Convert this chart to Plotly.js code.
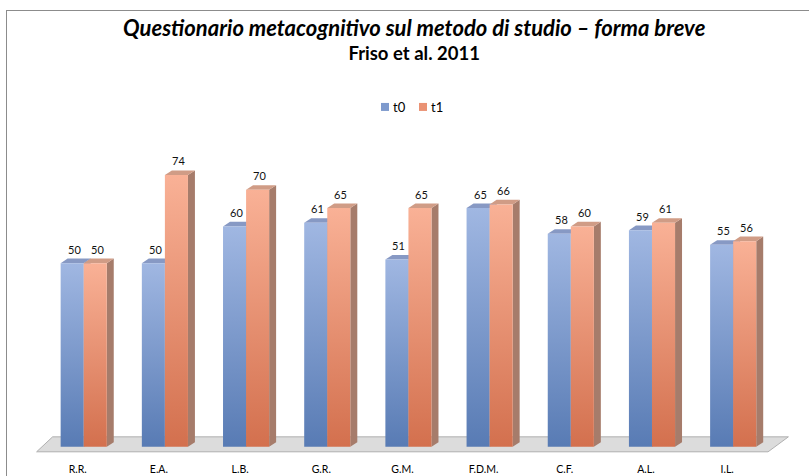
<!DOCTYPE html>
<html><head><meta charset="utf-8">
<script src="https://cdn.plot.ly/plotly-3.0.1.min.js"></script>
<style>body{margin:0;background:#fff}#wrap{position:relative;width:809px;height:476px;overflow:hidden}
#chart{width:809px;height:476px}
#frame{position:absolute;left:6px;top:10px;width:900px;height:600px;border-left:1.5px solid #8C8C8C;border-top:1.5px solid #8C8C8C;pointer-events:none}</style>
</head><body><div id="wrap"><div id="chart"></div><div id="frame"></div></div>
<script>
const categories = ["R.R.","E.A.","L.B.","G.R.","G.M.","F.D.M.","C.F.","A.L.","I.L."];
const t0 = [50,50,60,61,51,65,58,59,55];
const t1 = [50,74,70,65,65,66,60,61,56];
const seriesNames = ["t0","t1"];
const seriesColors = ['#7E9ACD','#EA9274'];

const idx = categories.map((_, i) => i);
const BW = 0.284;            // bar width (category units)
const DX = 0.086, DY = 1.25; // pseudo-3D depth
const FONT = "Lato, 'Open Sans', sans-serif";

const traces = [
  {type:'bar', name:seriesNames[0], x:idx, y:t0, marker:{color:seriesColors[0], line:{width:0}}, hoverinfo:'x+y'},
  {type:'bar', name:seriesNames[1], x:idx, y:t1, marker:{color:seriesColors[1], line:{width:0}}, hoverinfo:'x+y'}
];

function poly(pts){ return 'M' + pts.map(p => p[0] + ',' + p[1]).join(' L') + ' Z'; }

const shapes = [];
// floor
shapes.push({type:'path', xref:'x', yref:'y', layer:'below',
  path: poly([[-0.58,-1.36],[-0.383,2.72],[8.68,2.72],[8.43,-1.36]]),
  fillcolor:'#DCDCDC', line:{color:'#B0B0B0', width:1}});
const faces = [
  {vals:t0, off:-BW, side:'#7287AE', top:'#8799C4'},
  {vals:t1, off:0, side:'#A67C6B', top:'#D09C86'}
];
faces.forEach(f => {
  f.vals.forEach((v, i) => {
    const x0 = i + f.off, x1 = x0 + BW;
    shapes.push({type:'path', xref:'x', yref:'y', layer:'below',
      path: poly([[x1,0],[x1,v],[x1+DX,v+DY],[x1+DX,DY]]), fillcolor:f.side, line:{width:0}});
    shapes.push({type:'path', xref:'x', yref:'y', layer:'below',
      path: poly([[x0,v],[x1,v],[x1+DX,v+DY],[x0+DX,v+DY]]), fillcolor:f.top, line:{width:0}});
  });
});

const annotations = [];
[[t0,-BW/2],[t1,BW/2]].forEach(([vals, off]) => {
  vals.forEach((v, i) => annotations.push({
    x: i + off, y: v + DY, xref:'x', yref:'y', text: String(v), showarrow:false,
    yanchor:'bottom', xanchor:'center', xshift:2, yshift:1,
    font:{family:FONT, size:11, color:'#111'}
  }));
});
// legend (compact, as in the reference): swatches + labels
const legX = [0.4636, 0.5139], legY = 1.152;
seriesNames.forEach((n, k) => {
  shapes.push({type:'rect', xref:'paper', yref:'paper', xsizemode:'pixel', ysizemode:'pixel',
    xanchor:legX[k], yanchor:legY, x0:-4, x1:4, y0:-4, y1:4, fillcolor:seriesColors[k], line:{width:0}});
  annotations.push({xref:'paper', yref:'paper', x:legX[k], xshift:6, y:legY, xanchor:'left', yanchor:'middle',
    showarrow:false, text:n, font:{family:FONT, size:13, color:'#000'}});
});

const layout = {
  width:809, height:476,
  margin:{l:35, r:19, t:153, b:20},
  paper_bgcolor:'#fff', plot_bgcolor:'rgba(0,0,0,0)',
  font:{family:FONT, color:'#000'},
  title:{text:"<b><i><span style='font-size:22px'>Questionario metacognitivo sul metodo di studio – forma breve</span></i></b><br><b>Friso et al. 2011</b>",
    font:{family:FONT, size:18.5, color:'#000'}, x:0.512, xanchor:'center', y:0.925, yanchor:'top', yref:'container'},
  barmode:'group', bargap:0.432, bargroupgap:0,
  xaxis:{range:[-0.6, 8.7], tickvals:idx, ticktext:categories, showgrid:false, zeroline:false,
    showline:false, ticks:'', tickfont:{family:FONT, size:10.5, color:'#000'}, ticklabelstandoff:5, ticklabelshift:-6, fixedrange:true},
  yaxis:{range:[-2.5, 80], visible:false, showgrid:false, zeroline:false, fixedrange:true},
  shapes: shapes, annotations: annotations, showlegend:false
};

Plotly.newPlot('chart', traces, layout, {displayModeBar:false, staticPlot:true}).then(gd => {
  const svg = gd.querySelector('svg.main-svg');
  let defs = svg.querySelector('defs');
  if (!defs) { defs = document.createElementNS('http://www.w3.org/2000/svg','defs'); svg.insertBefore(defs, svg.firstChild); }
  const grads = [['gb','#A0B7E2','#587BB4'],['go','#F9B196','#D3704E']];
  grads.forEach(([id, c1, c2]) => {
    const g = document.createElementNS('http://www.w3.org/2000/svg','linearGradient');
    g.setAttribute('id', id); g.setAttribute('x1','0'); g.setAttribute('y1','0'); g.setAttribute('x2','0'); g.setAttribute('y2','1');
    [[0,c1],[1,c2]].forEach(([o,c]) => {
      const s = document.createElementNS('http://www.w3.org/2000/svg','stop');
      s.setAttribute('offset', o); s.setAttribute('stop-color', c); g.appendChild(s);
    });
    defs.appendChild(g);
  });
  gd.querySelectorAll('.barlayer .trace').forEach((tr, k) => {
    tr.querySelectorAll('path').forEach(p => { p.style.fill = 'url(#' + grads[k][0] + ')'; });
  });
});
</script>
</body></html>
